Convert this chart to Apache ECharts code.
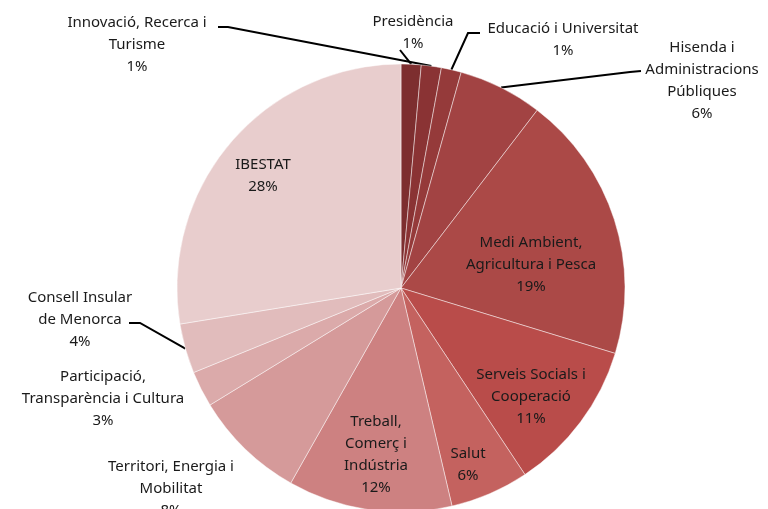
<!DOCTYPE html>
<html>
<head>
<meta charset="utf-8">
<script src="https://cdn.jsdelivr.net/npm/echarts@6/dist/echarts.min.js"></script>
<style>
  html, body { margin: 0; padding: 0; background: #fff; }
  #chart { width: 768px; height: 509px; }
</style>
</head>
<body>
<div id="chart"></div>
<script>
// departaments (ordre de les porcions, en sentit horari des de dalt)
const names = [
  'Presidència',
  'Innovació, Recerca i\nTurisme',
  'Educació i Universitat',
  'Hisenda i\nAdministracions\nPúbliques',
  'Medi Ambient,\nAgricultura i Pesca',
  'Serveis Socials i\nCooperació',
  'Salut',
  'Treball,\nComerç i\nIndústria',
  'Territori, Energia i\nMobilitat',
  'Participació,\nTransparència i Cultura',
  'Consell Insular\nde Menorca',
  'IBESTAT'
];
// percentatges llegits de la imatge
const values = [1.45, 1.45, 1.45, 6.1, 19.4, 11.0, 5.7, 11.9, 8.1, 2.6, 3.6, 27.7];
const colors = [
  '#7d2e2f', '#8a3334', '#953a3a', '#a24343', '#ab4947', '#b94c4a',
  '#c4625f', '#cd8181', '#d59a9a', '#dbaaaa', '#e1bcbc', '#e8cdcd'
];
// quines etiquetes porten línia guia
const withLine = [true, true, true, true, false, false, false, false, false, false, true, false];

// posició de les etiquetes: [centre x, centre de la primera línia y]
const labelPos = [
  [413, 22], [137, 23], [563, 29], [702, 48], [531, 243], [531, 375],
  [468, 454], [376, 422], [171, 467], [103, 377], [80, 298], [263, 165]
];
// punts de la línia guia del costat de l'etiqueta
const guidePts = {
  0: [[400, 50], [400, 50]],
  1: [[228, 27], [218, 27]],
  2: [[468, 33], [480, 33]],
  3: [[630, 72], [641, 71]],
  10: [[140, 323], [129, 323]]
};

const cx = 401, cy = 288, R = 224;
const total = values.reduce((a, b) => a + b, 0);
const midPoint = (i) => {
  let before = 0;
  for (let k = 0; k < i; k++) before += values[k];
  const ang = (before + values[i] / 2) / total * Math.PI * 2;
  return [cx + R * Math.sin(ang), cy - R * Math.cos(ang)];
};

const chart = echarts.init(document.getElementById('chart'));
chart.setOption({
  animation: false,
  series: [{
    type: 'pie',
    center: [cx, cy],
    radius: R,
    startAngle: 90,
    clockwise: true,
    avoidLabelOverlap: false,
    itemStyle: { borderColor: 'rgba(255,255,255,0.45)', borderWidth: 1 },
    label: {
      show: true,
      position: 'outside',
      color: '#1a1a1a',
      fontFamily: 'Noto Sans',
      fontSize: 15,
      lineHeight: 22,
      align: 'center',
      formatter: p => p.name + '\n' + Math.round(p.percent) + '%'
    },
    labelLine: { show: true, lineStyle: { color: '#000', width: 2 } },
    labelLayout: p => {
      const i = p.dataIndex;
      const out = {
        x: labelPos[i][0],
        y: labelPos[i][1] - 11,
        align: 'center',
        verticalAlign: 'top'
      };
      if (guidePts[i]) {
        out.labelLinePoints = [midPoint(i), guidePts[i][0], guidePts[i][1]];
      }
      return out;
    },
    data: names.map((n, i) => ({
      name: n,
      value: values[i],
      itemStyle: { color: colors[i] },
      labelLine: { show: withLine[i] }
    }))
  }]
});
</script>
</body>
</html>
